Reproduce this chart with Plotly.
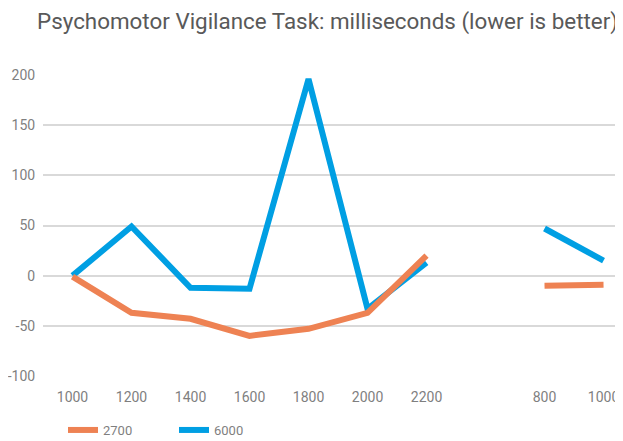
import plotly.graph_objects as go

positions = [0, 1, 2, 3, 4, 5, 6, 7, 8, 9]
tick_labels = ["1000", "1200", "1400", "1600", "1800", "2000", "2200", "", "800", "1000"]
y_ticks = [-100, -50, 0, 50, 100, 150, 200]
y_tick_labels = ["-100", "-50", "0", "50", "100", "150", "200"]
series_2700 = [-1, -37, -43, -60, -53, -37, 20, None, -10, -9]
series_6000 = [0, 49, -12, -13, 196, -33, 13, None, 47, 15]

W, H = 615, 433  # page body has an 8px margin

fig = go.Figure()
fig.add_trace(go.Scatter(x=positions, y=series_6000, name="6000", mode="lines",
                         line=dict(color="#009FE3", width=6), legendrank=2,
                         connectgaps=False))
fig.add_trace(go.Scatter(x=positions, y=series_2700, name="2700", mode="lines",
                         line=dict(color="#EE8253", width=6), legendrank=1,
                         connectgaps=False))

fig.update_layout(
    width=W, height=H,
    margin=dict(l=35, r=0, t=67, b=65, autoexpand=False),
    plot_bgcolor="white", paper_bgcolor="white",
    font=dict(family="Roboto", color="#7F7F7F", size=14),
    title=dict(text="Psychomotor Vigilance Task: milliseconds (lower is better)",
               x=29/W, xref="container", xanchor="left",
               y=1-13/H, yref="container", yanchor="middle",
               font=dict(size=22.4, color="#595959", family="Roboto")),
    xaxis=dict(range=[-0.5, 9.33], tickvals=positions, ticktext=tick_labels,
               showgrid=False, zeroline=False, showline=False, automargin=False,
               ticks="outside", ticklen=8, tickcolor="rgba(0,0,0,0)",
               tickfont=dict(size=14, color="#7F7F7F")),
    yaxis=dict(range=[-100, 200], tickvals=y_ticks, ticktext=y_tick_labels,
               showgrid=True, gridcolor="#D9D9D9", gridwidth=2, automargin=False,
               zeroline=False, showline=False,
               ticks="outside", ticklen=4, tickcolor="rgba(0,0,0,0)",
               tickfont=dict(size=14, color="#7F7F7F")),
    legend=dict(orientation="h", x=55/W, xref="container", xanchor="left",
                y=1-422/H, yref="container", yanchor="middle",
                entrywidth=66, entrywidthmode="pixels",
                font=dict(size=13, color="#7F7F7F"), traceorder="normal"),
    showlegend=True,
)

fig.write_html("out.html")
